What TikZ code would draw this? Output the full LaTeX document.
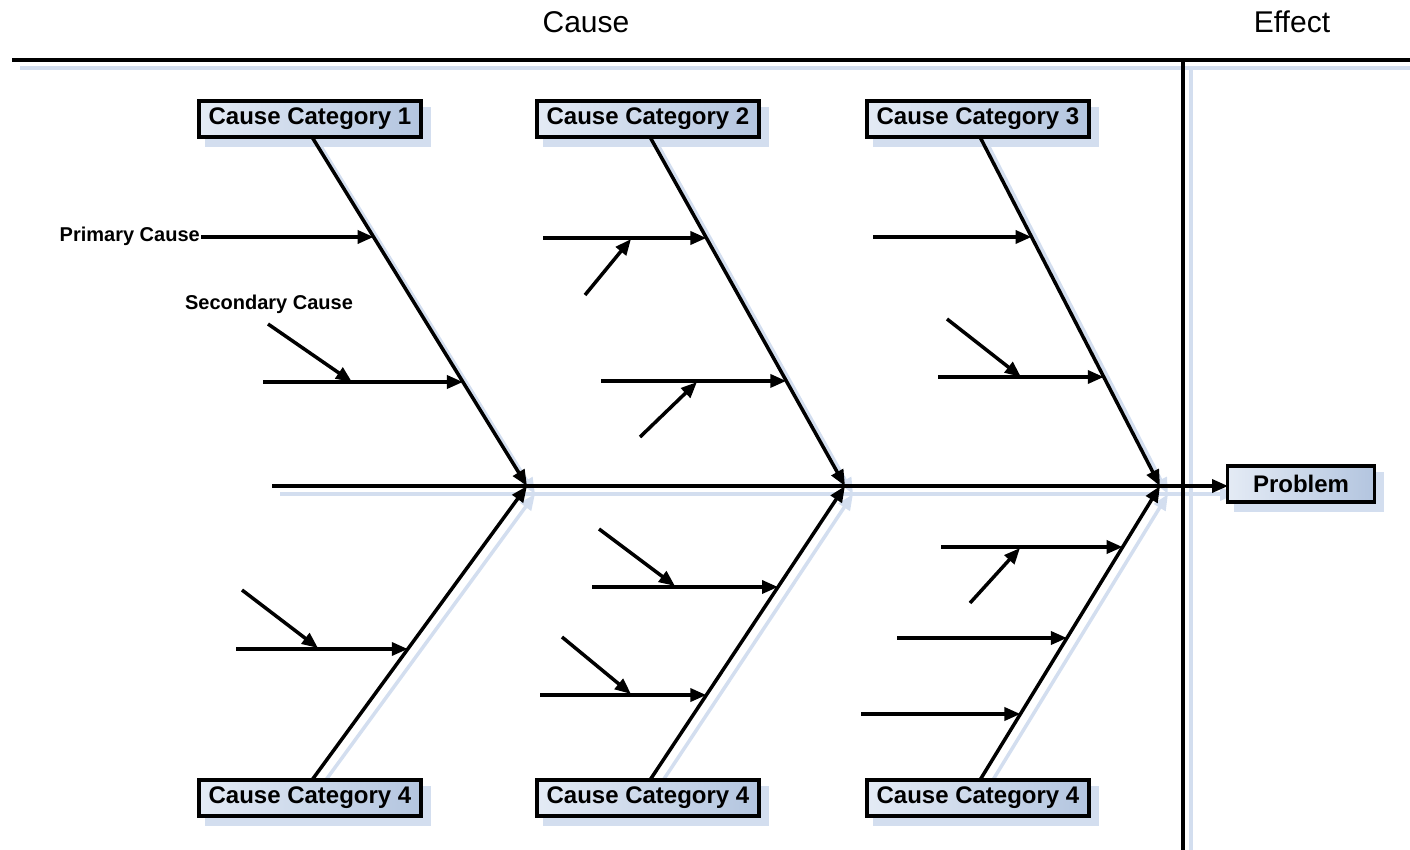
\documentclass[tikz,border=0pt]{standalone}
\usepackage{fontspec}
\setmainfont{Liberation Sans}
\usetikzlibrary{arrows.meta}
\definecolor{shadowblue}{HTML}{D3DEEF}
\definecolor{boxL}{HTML}{E4EBF5}
\definecolor{boxR}{HTML}{B3C5DF}
\pgfdeclarelayer{bg}
\pgfsetlayers{bg,main}
\tikzset{
  arr/.style={line width=3.5pt,-{Triangle[length=16pt,width=13pt]}},
  shd/.style={line width=3.5pt,draw=shadowblue,transform canvas={xshift=8pt,yshift=-8pt}},
  shdarr/.style={shd,-{Triangle[length=16pt,width=13pt]}},
  catbox/.style={draw,line width=3.5pt,left color=boxL,right color=boxR,
    minimum width=222pt,minimum height=36pt,inner sep=0pt,
    font=\bfseries\fontsize{24}{28}\selectfont},
  lbl/.style={font=\bfseries\fontsize{20}{24}\selectfont,inner sep=1pt},
  head/.style={font=\fontsize{30}{34}\selectfont,inner sep=0pt}
}
\begin{document}
\begin{tikzpicture}[x=1pt,y=-1pt]
\useasboundingbox (0,0) rectangle (1410,850);

% headings and frame
\node[head] (hc) at (586,22) {Cause};
\node[head] (he) at (1292,22) {Effect};
\coordinate (fl) at (12,60);
\coordinate (fr) at (1410,60);
\coordinate (vt) at (1183,60);
\coordinate (vb) at (1183,850);
\draw[line width=4pt] (fl) -- (fr);
\draw[line width=3.5pt] (vt) -- (vb);

% spine, joints and bone ends
\coordinate (s0) at (272,486);
\coordinate (j1) at (527,486);
\coordinate (j2) at (845,486);
\coordinate (j3) at (1160,486);
\coordinate (pw) at (1228,486);
\coordinate (t1) at (312,137); \coordinate (t2) at (650,137); \coordinate (t3) at (980,137);
\coordinate (b1) at (312,780); \coordinate (b2) at (650,780); \coordinate (b3) at (980,780);

% spine and bones
\draw[arr] (s0) -- (pw);
\foreach \k in {1,2,3} {
  \draw[arr] (t\k) -- (j\k);
  \draw[arr] (b\k) -- (j\k);
}

% category boxes
\node[catbox] (c1t) at (310,119) {Cause Category 1};
\node[catbox] (c2t) at (648,119) {Cause Category 2};
\node[catbox] (c3t) at (978,119) {Cause Category 3};
\node[catbox] (c1b) at (310,798) {Cause Category 4};
\node[catbox] (c2b) at (648,798) {Cause Category 4};
\node[catbox] (c3b) at (978,798) {Cause Category 4};
\node[catbox,minimum width=147pt] (prob) at (1301,484) {Problem};

% soft blue shadows behind frame, spine, bones and boxes
\begin{pgfonlayer}{bg}
  \draw[shd] (fl) -- (fr);
  \draw[shd] (vt) -- (vb);
  \draw[shdarr] (s0) -- (pw);
  \foreach \k in {1,2,3} {
    \draw[shdarr] (t\k) -- (j\k);
    \draw[shdarr] (b\k) -- (j\k);
  }
  \foreach \n in {c1t,c2t,c3t,c1b,c2b,c3b,prob}
    \fill[shadowblue,transform canvas={xshift=8pt,yshift=-8pt}]
      (\n.south west) rectangle (\n.north east);
\end{pgfonlayer}

% points on the bones where primary causes meet them
\path (t1) -- (j1) coordinate[pos=0.2865] (p1a) coordinate[pos=0.702] (p1b);
\path (t2) -- (j2) coordinate[pos=0.2894] (p2a) coordinate[pos=0.699] (p2b);
\path (t3) -- (j3) coordinate[pos=0.2865] (p3a) coordinate[pos=0.6877] (p3b);
\path (b1) -- (j1) coordinate[pos=0.4456] (q1a);
\path (b2) -- (j2) coordinate[pos=0.6565] (q2a) coordinate[pos=0.289] (q2b);
\path (b3) -- (j3) coordinate[pos=0.7925] (q3a) coordinate[pos=0.483] (q3b) coordinate[pos=0.2245] (q3c);

% labels
\node[lbl,anchor=east] (pc) at (201,236) {Primary Cause};
\node[lbl] (sc) at (269,304) {Secondary Cause};

% primary causes
\draw[arr] (pc.east |- p1a) -- (p1a);
\draw[arr] (263,0 |- p1b) -- (p1b);
\draw[arr] (543,0 |- p2a) -- (p2a);
\draw[arr] (601,0 |- p2b) -- (p2b);
\draw[arr] (873,0 |- p3a) -- (p3a);
\draw[arr] (938,0 |- p3b) -- (p3b);
\draw[arr] (236,0 |- q1a) -- (q1a);
\draw[arr] (592,0 |- q2a) -- (q2a);
\draw[arr] (540,0 |- q2b) -- (q2b);
\draw[arr] (941,0 |- q3a) -- (q3a);
\draw[arr] (897,0 |- q3b) -- (q3b);
\draw[arr] (861,0 |- q3c) -- (q3c);

% secondary causes
\coordinate (r1s) at (268,324);  \coordinate (r1e) at (352,382);
\coordinate (r2s) at (585,295);  \coordinate (r2e) at (631,239);
\coordinate (r3s) at (640,437);  \coordinate (r3e) at (697,382);
\coordinate (r4s) at (947,319);  \coordinate (r4e) at (1021,377);
\coordinate (r5s) at (242,590);  \coordinate (r5e) at (318,648);
\coordinate (r6s) at (599,529);  \coordinate (r6e) at (675,586);
\coordinate (r7s) at (562,637);  \coordinate (r7e) at (631,694);
\coordinate (r8s) at (970,603);  \coordinate (r8e) at (1020,548);
\foreach \k in {1,...,8}
  \draw[arr] (r\k s) -- (r\k e);
\end{tikzpicture}
\end{document}
